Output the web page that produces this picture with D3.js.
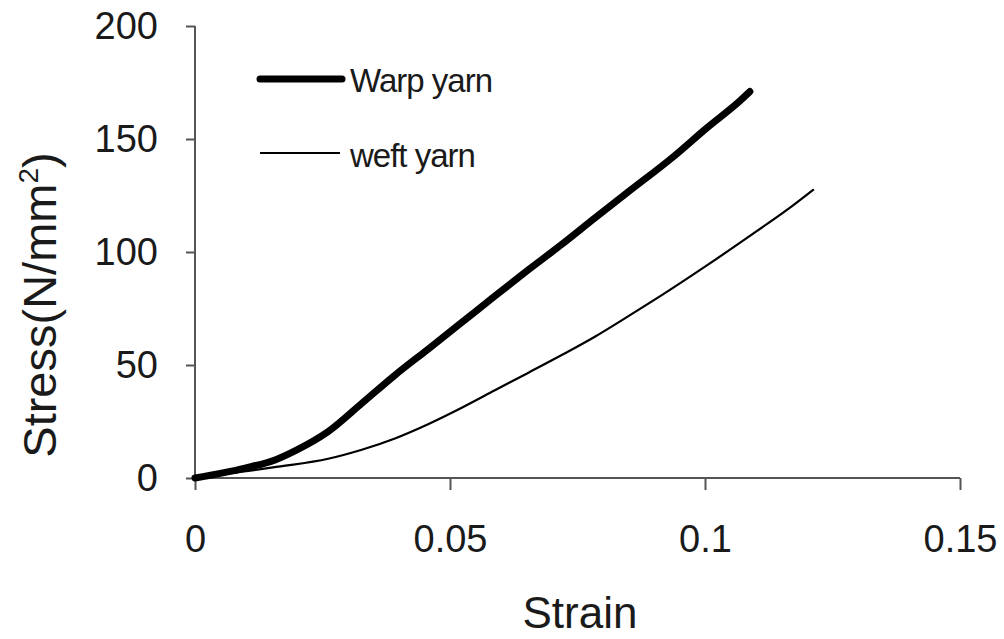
<!DOCTYPE html>
<html>
<head>
<meta charset="utf-8">
<script src="https://cdn.jsdelivr.net/npm/d3@7"></script>
<style>
  body { margin: 0; background: #fff; }
  text { font-family: "Liberation Sans", Arial, sans-serif; fill: #1a1a1a; }
</style>
</head>
<body>
<script>
var warpStrain = [0, 0.0098, 0.0157, 0.0196, 0.0261, 0.0327, 0.0392, 0.0457, 0.0524, 0.0588, 0.0653, 0.072, 0.0784, 0.0849, 0.0937, 0.1004, 0.1069, 0.1088];
var warpStress = [0, 4.4, 8, 12, 20.5, 33, 45.5, 57, 69, 80.5, 92, 103.5, 115, 126.5, 142, 155, 167, 171];
var weftStrain = [0, 0.01, 0.0163, 0.0261, 0.0327, 0.0392, 0.0457, 0.0524, 0.0588, 0.0653, 0.072, 0.0784, 0.0849, 0.0916, 0.1, 0.11, 0.116, 0.1212];
var weftStress = [0, 3, 5, 8.5, 12.5, 17.5, 23.8, 31.2, 38.8, 46.5, 54.5, 62.5, 71.5, 81, 93.5, 109, 118.5, 127.5];
var xTicks = [0, 0.05, 0.1, 0.15];
var yTicks = [0, 50, 100, 150, 200];
var seriesNames = ['Warp yarn', 'weft yarn'];

var svg = d3.select('body').append('svg').attr('width', 1004).attr('height', 639);

var x = d3.scaleLinear().domain([0, 0.15]).range([195, 960]);
var y = d3.scaleLinear().domain([0, 200]).range([478, 26]);

var xAxis = d3.axisBottom(x).tickValues(xTicks).tickSize(12).tickPadding(35)
              .tickFormat(function(d){ return d === 0 ? '0' : String(+d.toFixed(2)); });
var yAxis = d3.axisLeft(y).tickValues(yTicks).tickSize(9).tickPadding(28);

var gx = svg.append('g').attr('class', 'axis x').attr('transform', 'translate(0,478)').call(xAxis);
var gy = svg.append('g').attr('class', 'axis y').attr('transform', 'translate(195,0)').call(yAxis);

[gx, gy].forEach(function(g){
  g.select('.domain').attr('stroke', '#555').attr('stroke-width', 2);
  g.selectAll('.tick line').attr('stroke', '#555').attr('stroke-width', 2);
  g.selectAll('.tick text').style('font-family', '"Liberation Sans", Arial, sans-serif')
    .style('font-size', '38px').attr('fill', '#1a1a1a');
});
// outer ticks are straight in the original, no end caps
gx.select('.domain').attr('d', 'M195,0H960');
gy.select('.domain').attr('d', 'M0,26V478');

var line = d3.line()
  .x(function(d){ return x(d[0]); })
  .y(function(d){ return y(d[1]); })
  .curve(d3.curveMonotoneX);

var warp = warpStrain.map(function(s, i){ return [s, warpStress[i]]; });
var weft = weftStrain.map(function(s, i){ return [s, weftStress[i]]; });

svg.append('path').attr('fill', 'none').attr('stroke', '#000').attr('stroke-width', 2.2)
  .attr('stroke-linecap', 'round').attr('d', line(weft));
svg.append('path').attr('fill', 'none').attr('stroke', '#000').attr('stroke-width', 7)
  .attr('stroke-linecap', 'round').attr('d', line(warp));

// legend
var leg = svg.append('g');
leg.append('line').attr('x1', 260).attr('x2', 342).attr('y1', 79).attr('y2', 79)
  .attr('stroke', '#000').attr('stroke-width', 7).attr('stroke-linecap', 'round');
leg.append('text').attr('x', 350).attr('y', 92).style('font-size', '33px')
  .style('letter-spacing', '-1px').text(seriesNames[0]);
leg.append('line').attr('x1', 260).attr('x2', 340).attr('y1', 153).attr('y2', 153)
  .attr('stroke', '#000').attr('stroke-width', 2.2);
leg.append('text').attr('x', 350).attr('y', 167).style('font-size', '33px')
  .style('letter-spacing', '-1px').text(seriesNames[1]);

// axis titles
svg.append('text').attr('x', 580).attr('y', 628).attr('text-anchor', 'middle')
  .style('font-size', '44px').text('Strain');
var yt = svg.append('text').attr('transform', 'translate(56,305) rotate(-90)')
  .attr('text-anchor', 'middle').style('font-size', '47px');
yt.append('tspan').text('Stress(N/mm');
yt.append('tspan').attr('dy', -18).style('font-size', '28px').text('2');
yt.append('tspan').attr('dy', 18).text(')');
</script>
</body>
</html>
